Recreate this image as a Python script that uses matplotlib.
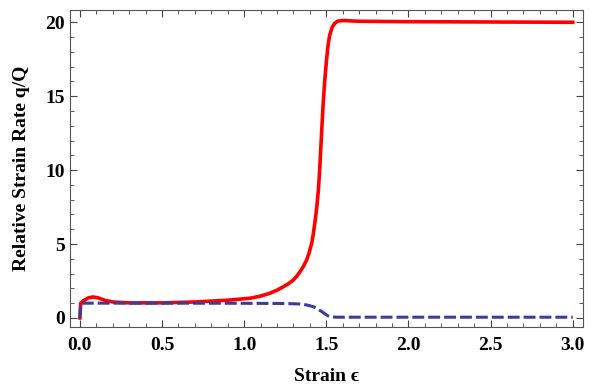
import numpy as np
import matplotlib.pyplot as plt
from matplotlib.ticker import MultipleLocator

# curva roja (tasa relativa q/Q)
strain_red = [0, 0.005, 0.02, 0.05, 0.08, 0.11, 0.15, 0.2, 0.3, 0.5, 0.7, 0.9, 1.0, 1.035,
              1.1, 1.157, 1.2, 1.238, 1.27, 1.299, 1.32, 1.34, 1.36, 1.38, 1.395, 1.411,
              1.421, 1.431, 1.442, 1.452, 1.46, 1.466, 1.474, 1.482, 1.49, 1.50, 1.51,
              1.52, 1.535, 1.55, 1.57, 1.6, 1.7, 2.0, 2.5, 3.0]
rate_red = [0, 1.0, 1.15, 1.35, 1.42, 1.36, 1.2, 1.08, 1.02, 1.02, 1.08, 1.2, 1.3, 1.33,
            1.48, 1.67, 1.88, 2.11, 2.32, 2.56, 2.82, 3.13, 3.48, 3.91, 4.4, 5.04,
            5.7, 6.5, 7.5, 8.7, 10.1, 11.4, 13.1, 14.7, 16.0, 17.3, 18.4,
            19.1, 19.65, 19.92, 20.08, 20.12, 20.07, 20.04, 20.02, 20.0]

# curva azul discontinua
strain_blue = [0, 0.005, 0.5, 1.0, 1.2, 1.3, 1.34, 1.38, 1.421, 1.445, 1.472, 1.495,
               1.512, 1.535, 1.563, 1.6, 3.0]
rate_blue = [0, 1.0, 1.0, 0.99, 0.98, 0.96, 0.94, 0.88, 0.76, 0.62, 0.43, 0.25,
             0.13, 0.07, 0.05, 0.05, 0.05]

plt.rcParams['font.family'] = ['Liberation Serif', 'DejaVu Serif']
plt.rcParams['font.weight'] = 'bold'

fig = plt.figure(figsize=(5.92, 3.85), dpi=100)
ax = fig.add_axes([0.118, 0.150, 0.867, 0.824])

ax.plot(strain_red, rate_red, color='#ff0000', lw=2.6)
ax.plot(strain_blue, rate_blue, color='#3c3c9e', lw=2.2, dashes=[3.9, 1.3])

ax.set_xlim(-0.061, 3.063)
ax.set_ylim(-0.63, 20.83)

ax.xaxis.set_major_locator(MultipleLocator(0.5))
ax.xaxis.set_minor_locator(MultipleLocator(0.1))
ax.yaxis.set_major_locator(MultipleLocator(5))
ax.yaxis.set_minor_locator(MultipleLocator(1))
ax.xaxis.set_major_formatter(plt.FuncFormatter(lambda v, p: f"{v:.1f}"))
ax.yaxis.set_major_formatter(plt.FuncFormatter(lambda v, p: f"{v:.0f}"))

ax.tick_params(which='both', direction='in', top=True, right=True, color='#444444',
               labelsize=14)
ax.tick_params(which='major', length=5, width=0.8)
ax.tick_params(which='minor', length=3, width=0.6)
ax.tick_params(axis='x', pad=7)
for s in ax.spines.values():
    s.set_color('#555555')
    s.set_linewidth(0.8)

ax.set_xlabel("Strain ϵ", fontsize=14, fontweight='bold')
ax.set_ylabel("Relative Strain Rate q/Q", fontsize=14, fontweight='bold')
ax.xaxis.set_label_coords(0.5, -0.128)
ax.yaxis.set_label_coords(-0.078, 0.5)

fig.savefig("out.png", dpi=100)
